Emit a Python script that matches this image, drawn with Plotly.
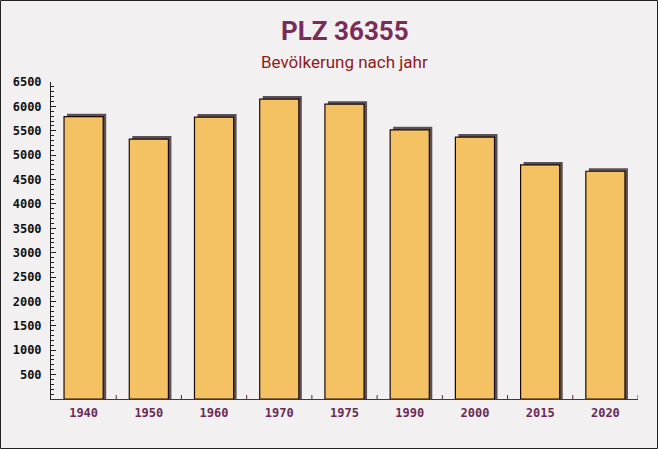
import plotly.graph_objects as go

years = ["1940", "1950", "1960", "1970", "1975", "1990", "2000", "2015", "2020"]
population = [5790, 5330, 5780, 6150, 6045, 5520, 5370, 4800, 4670]
y_tick_values = list(range(500, 7000, 500))

title_text = "PLZ 36355"
subtitle_text = "Bevölkerung nach jahr"

W, H = 658, 449
ML, MR, MT, MB = 51, 20, 82, 50
plot_w = W - ML - MR
plot_h = H - MT - MB
y_max = 6500

# shadow offsets for the 3D look (in pixels converted to data units)
dx = 3 / (plot_w / len(years))
dy = 3 * y_max / plot_h

fig = go.Figure()
fig.add_trace(go.Bar(
    x=years, y=[v + dy for v in population], width=0.6, offset=-0.3 + dx,
    marker=dict(color="#5a5156", line=dict(width=0)),
    hoverinfo="skip", showlegend=False,
))
fig.add_trace(go.Bar(
    x=years, y=population, width=0.6, offset=-0.3,
    marker=dict(color="#f5c263", line=dict(color="#1a0a0a", width=1.2)),
    showlegend=False,
))

fig.update_layout(
    width=W, height=H, barmode="overlay",
    margin=dict(l=ML, r=MR, t=MT, b=MB),
    paper_bgcolor="#f2f0f1", plot_bgcolor="rgba(0,0,0,0)",
    xaxis=dict(
        type="category", showgrid=False, showline=True, linecolor="#5a2a45", linewidth=1,
        ticks="", ticklabelstandoff=3,
        tickfont=dict(family="DejaVu Sans Mono", size=12, color="#6b2a55", weight="bold"),
        range=[-0.5, len(years) - 0.5],
    ),
    yaxis=dict(
        range=[0, y_max], showgrid=False, zeroline=False, showline=True,
        linecolor="#222", linewidth=1, tickvals=y_tick_values,
        ticks="inside", ticklen=5, tickcolor="#222", ticklabelstandoff=6,
        minor=dict(dtick=100, ticks="inside", ticklen=3, tickcolor="#222"),
        tickfont=dict(family="DejaVu Sans Mono", size=12, color="#111", weight="bold"),
    ),
    annotations=[
        dict(text=title_text, xref="paper", yref="paper", x=0.5, y=(H - 31 - MB) / plot_h,
             xanchor="center", yanchor="middle", showarrow=False,
             font=dict(family="Roboto", size=26, color="#7a2c58", weight="bold")),
        dict(text=subtitle_text, xref="paper", yref="paper", x=0.5, y=(H - 62 - MB) / plot_h,
             xanchor="center", yanchor="middle", showarrow=False,
             font=dict(family="Roboto", size=17, color="#8e1b1b")),
    ],
    shapes=[
        dict(type="rect", xref="paper", yref="paper",
             x0=(0.5 - ML) / plot_w, x1=(W - 0.5 - ML) / plot_w,
             y0=(0.5 - MB) / plot_h, y1=(H - 0.5 - MB) / plot_h,
             line=dict(color="#222", width=1)),
    ],
)

# small inside ticks at category boundaries on the x axis
for i in range(1, len(years) + 1):
    fig.add_shape(type="line", xref="x", yref="paper", x0=i - 0.5, x1=i - 0.5,
                  y0=0, y1=4 / plot_h, line=dict(color="#5a2a45", width=1))

fig.write_html("out.html")
